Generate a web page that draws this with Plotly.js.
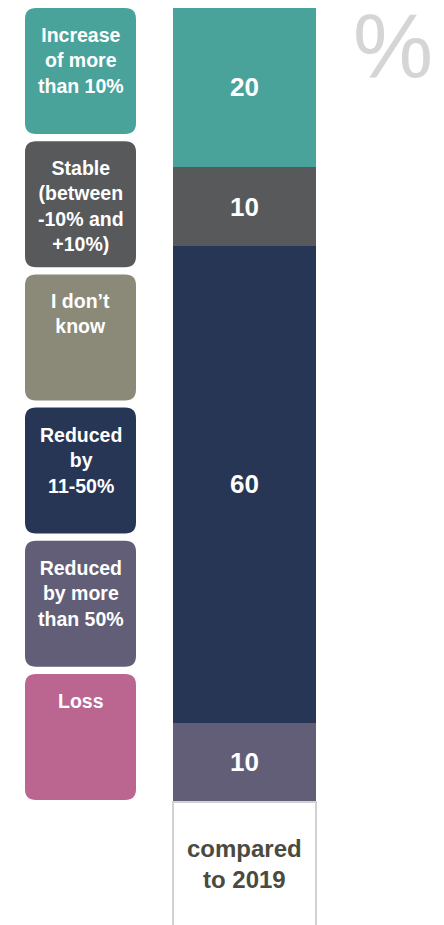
<!DOCTYPE html>
<html>
<head>
<meta charset="utf-8">
<script src="https://cdn.plot.ly/plotly-3.0.1.min.js"></script>
<style>html,body{margin:0;padding:0;background:#fff;}#chart{width:444px;height:925px;}</style>
</head>
<body>
<div id="chart"></div>
<script>
// Data (stack order bottom -> top)
const period = ['compared to 2019'];
const seriesNames = ['Loss', 'Reduced by more than 50%', 'Reduced by 11-50%', 'I don’t know', 'Stable (between -10% and +10%)', 'Increase of more than 10%'];
const seriesValues = [0, 10, 60, 0, 10, 20];
const seriesColors = ['#bb6591', '#635e77', '#283656', '#8b8978', '#58595b', '#4aa39a'];
// Legend tiles (top -> bottom)
const legendLabels = ['Increase<br>of more<br>than 10%', 'Stable<br>(between<br>-10% and<br>+10%)', 'I don’t<br>know', 'Reduced<br>by<br>11-50%', 'Reduced<br>by more<br>than 50%', 'Loss'];
const legendColors = ['#4aa39a', '#58595b', '#8b8978', '#283656', '#635e77', '#bb6591'];

const W = 444, H = 925;
const L = 173, R = 316, T = 8, B = 802;
const px = x => (x - L) / (R - L);
const py = y => (B - y) / (B - T);

const traces = seriesNames.map((n, i) => ({
  type: 'bar',
  name: n,
  x: [0],
  y: [seriesValues[i]],
  marker: {color: seriesColors[i], line: {width: 0}},
  text: [seriesValues[i] > 0 ? String(seriesValues[i]) : ''],
  textposition: 'inside',
  insidetextanchor: 'middle',
  textangle: 0,
  constraintext: 'none',
  textfont: {family: 'Liberation Sans, Arial, sans-serif', size: 26, color: '#ffffff', weight: 'bold'},
  hoverinfo: 'skip'
}));

function roundRect(x0, y0, x1, y1, r) {
  const P = (x, y) => px(x).toFixed(5) + ',' + py(y).toFixed(5);
  return 'M' + P(x0 + r, y0) + ' L' + P(x1 - r, y0) + ' Q' + P(x1, y0) + ' ' + P(x1, y0 + r) +
    ' L' + P(x1, y1 - r) + ' Q' + P(x1, y1) + ' ' + P(x1 - r, y1) +
    ' L' + P(x0 + r, y1) + ' Q' + P(x0, y1) + ' ' + P(x0, y1 - r) +
    ' L' + P(x0, y0 + r) + ' Q' + P(x0, y0) + ' ' + P(x0 + r, y0) + ' Z';
}

const shapes = [];
const annotations = [];
const tileTop = 8, tileH = 126, tileStep = 133.2;
legendLabels.forEach((lab, i) => {
  const y0 = tileTop + i * tileStep;
  shapes.push({type: 'path', xref: 'paper', yref: 'paper', path: roundRect(25, y0, 136, y0 + tileH, 11),
    fillcolor: legendColors[i], line: {width: 0}, layer: 'above'});
  annotations.push({xref: 'paper', yref: 'paper', x: px(80.5), y: py(y0 + 14), xanchor: 'center', yanchor: 'top',
    text: '<b>' + lab + '</b>', showarrow: false, align: 'center',
    font: {family: 'Liberation Sans, Arial, sans-serif', size: 19.5, color: '#ffffff'}});
});

// comparison box below the bar
shapes.push({type: 'rect', xref: 'paper', yref: 'paper', x0: 0, x1: 1, y0: py(H + 10), y1: 0,
  fillcolor: 'rgba(0,0,0,0)', line: {color: '#d2d2d2', width: 2}, layer: 'above'});
annotations.push({xref: 'paper', yref: 'paper', x: 0.5, y: py(864), xanchor: 'center', yanchor: 'middle',
  text: '<b>compared<br>to 2019</b>', showarrow: false, align: 'center',
  font: {family: 'Liberation Sans, Arial, sans-serif', size: 24, color: '#4a4a3f'}});

// percent sign
annotations.push({xref: 'paper', yref: 'paper', x: px(393), y: py(46), xanchor: 'center', yanchor: 'middle',
  text: '%', showarrow: false,
  font: {family: 'Liberation Sans, Arial, sans-serif', size: 90, color: '#d4d5d7'}});

const layout = {
  width: W, height: H,
  margin: {l: L, r: W - R, t: T, b: H - B, pad: 0},
  paper_bgcolor: '#ffffff', plot_bgcolor: '#ffffff',
  barmode: 'stack', bargap: 0,
  showlegend: false,
  xaxis: {visible: false, range: [-0.5, 0.5], fixedrange: true},
  yaxis: {visible: false, range: [0, 100], fixedrange: true},
  shapes: shapes,
  annotations: annotations
};

Plotly.newPlot('chart', traces, layout, {displayModeBar: false, staticPlot: true});
</script>
</body>
</html>
